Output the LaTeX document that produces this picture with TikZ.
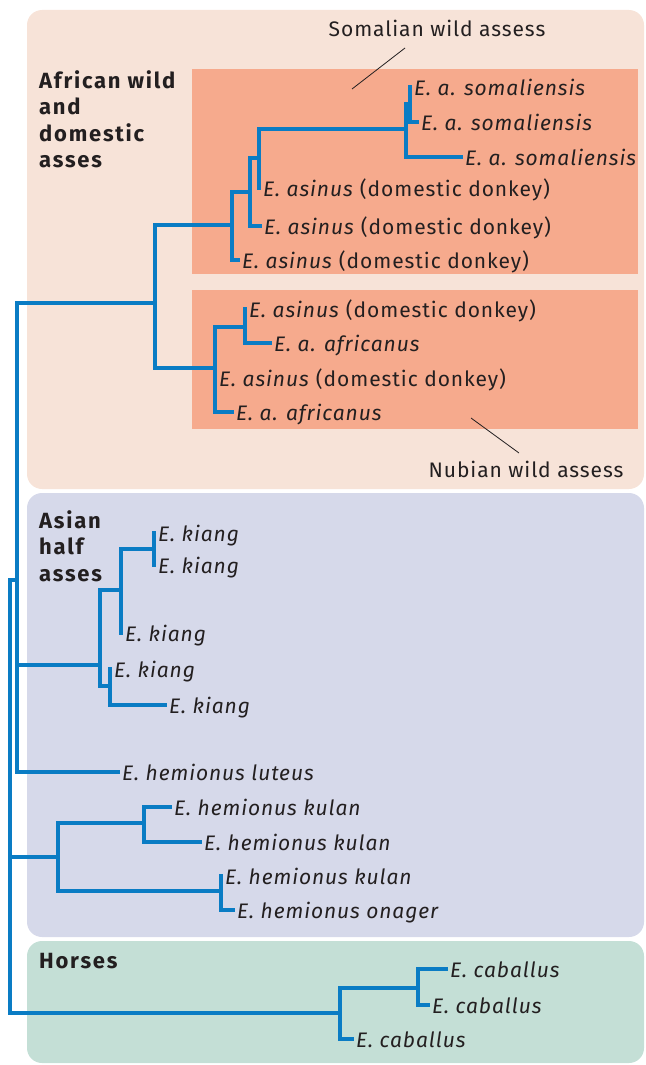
\documentclass[tikz,border=0pt]{standalone}
\usepackage{fontspec}
\setmainfont{Fira Sans}[LetterSpace=4.4,BoldFeatures={LetterSpace=8}]
\usetikzlibrary{positioning}
\definecolor{treeblue}{HTML}{0A7CC4}
\definecolor{afrbg}{HTML}{F7E3D8}
\definecolor{salmon}{HTML}{F6AA8D}
\definecolor{asiabg}{HTML}{D6D9EA}
\definecolor{horsebg}{HTML}{C4DFD6}
\definecolor{ink}{HTML}{231F20}
\tikzset{
  tip/.style={anchor=west,inner xsep=4pt,inner ysep=0pt,text height=16.5pt,text depth=0.5pt,
    font=\fontsize{21}{24}\selectfont\itshape,text=ink},
  branch/.style={treeblue,line width=3.2pt,line cap=rect},
  group/.style={anchor=north west,inner sep=0pt,align=left,text=ink,
    font=\fontsize{22}{26.5}\selectfont\bfseries},
  note/.style={text=ink,font=\fontsize{21}{24}\selectfont},
  leader/.style={ink,line width=0.8pt}
}
\newcommand{\dom}{\textup{(domestic donkey)}}

\begin{document}
\begin{tikzpicture}[x=1pt,y=-1pt]
\useasboundingbox (0,0) rectangle (645,1065);
% coloured groups
\fill[afrbg,rounded corners=15pt] (27,10) rectangle (644,489);
\fill[salmon] (192,69) rectangle (638,274);
\fill[salmon] (192,290) rectangle (638,429);
\fill[asiabg,rounded corners=15pt] (27,493) rectangle (644,937);
\fill[horsebg,rounded corners=15pt] (27,941) rectangle (644,1063);
\node[group] (afr) at (39,70) {African wild\\and\\domestic\\asses};
\node[group] (asia) at (39,510) {Asian\\half\\asses};
\node[group] (horse) at (39,953) {Horses};
\node[note] (somnote) at (437,28) {Somalian wild assess};
\node[note] (nubnote) at (526,469) {Nubian wild assess};
\coordinate (somA) at (405,48); \coordinate (somB) at (352,89);
\coordinate (nubA) at (471,418); \coordinate (nubB) at (519,453);
\draw[leader] (somA) -- (somB);
\draw[leader] (nubA) -- (nubB);
% tips
\node[tip] (s1) at (410,87) {E. a. somaliensis};
\node[tip] (s2) at (417,122) {E. a. somaliensis};
\node[tip] (s3) at (461,157) {E. a. somaliensis};
\node[tip] (d1) at (259,188) {E. asinus \dom};
\node[tip] (d2) at (260,226) {E. asinus \dom};
\node[tip] (d3) at (238,260) {E. asinus \dom};
\node[tip] (d4) at (245,309) {E. asinus \dom};
\node[tip] (a1) at (270,343) {E. a. africanus};
\node[tip] (d5) at (215,378) {E. asinus \dom};
\node[tip] (a2) at (232,412) {E. a. africanus};
\node[tip] (k1) at (154,533) {E. kiang};
\node[tip] (k2) at (154,565) {E. kiang};
\node[tip] (k3) at (121,633) {E. kiang};
\node[tip] (k4) at (110,669) {E. kiang};
\node[tip] (k5) at (165,705) {E. kiang};
\node[tip] (lut) at (118,772) {E. hemionus luteus};
\node[tip] (ku1) at (170,807) {E. hemionus kulan};
\node[tip] (ku2) at (200,842) {E. hemionus kulan};
\node[tip] (ku3) at (221,876) {E. hemionus kulan};
\node[tip] (on) at (233,910) {E. hemionus onager};
\node[tip] (c1) at (446,969) {E. caballus};
\node[tip] (c2) at (428,1005) {E. caballus};
\node[tip] (c3) at (352,1039) {E. caballus};
% inner nodes
\coordinate (nB) at (410,104); \coordinate (nA) at (406,129);
\coordinate (nC) at (259,158); \coordinate (nD) at (250,192);
\coordinate (nE) at (232,225); \coordinate (nF) at (155,303);
\coordinate (nG) at (215,368); \coordinate (nH) at (245,327);
\coordinate (nI) at (100,665); \coordinate (nJ) at (121,590);
\coordinate (nK) at (154,549); \coordinate (nL) at (110,686);
\coordinate (nM) at (58,857);  \coordinate (nN) at (144,823);
\coordinate (nO) at (221,891); \coordinate (nP) at (340,1013);
\coordinate (nQ) at (418,988); \coordinate (nR) at (17,580);
\coordinate (root) at (10,857);
\draw[branch] (nB) |- (s1.west) (nB) |- (s2.west) (nA) |- (nB) (nA) |- (s3.west)
  (nC) |- (nA) (nC) |- (d1.west) (nD) |- (nC) (nD) |- (d2.west)
  (nE) |- (nD) (nE) |- (d3.west) (nF) |- (nE) (nF) |- (nG)
  (nG) |- (nH) (nH) |- (d4.west) (nH) |- (a1.west) (nG) |- (d5.west) (nG) |- (a2.west);
\draw[branch] (nK) |- (k1.west) (nK) |- (k2.west) (nJ) |- (nK) (nJ) |- (k3.west)
  (nI) |- (nJ) (nI) |- (nL) (nL) |- (k4.west) (nL) |- (k5.west)
  (nN) |- (ku1.west) (nN) |- (ku2.west) (nM) |- (nN) (nM) |- (nO)
  (nO) |- (ku3.west) (nO) |- (on.west);
\draw[branch] (nQ) |- (c1.west) (nQ) |- (c2.west) (nP) |- (nQ) (nP) |- (c3.west);
\draw[branch] (root) |- (nR) (nR) |- (nF) (nR) |- (nI) (nR) |- (lut.west)
  (root) |- (nM) (root) |- (nP);
\end{tikzpicture}
\end{document}
